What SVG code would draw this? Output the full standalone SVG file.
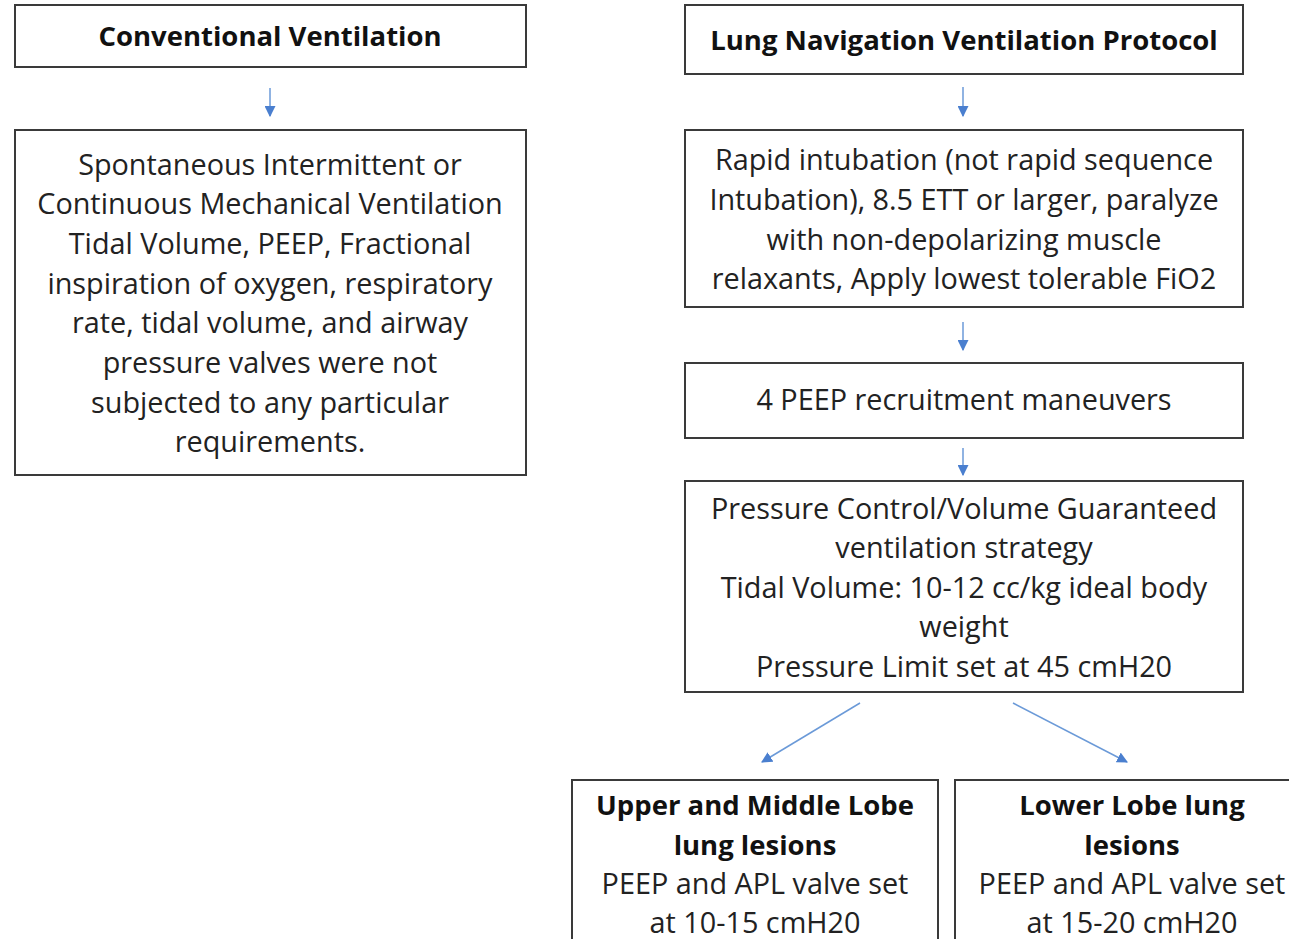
<svg xmlns="http://www.w3.org/2000/svg" width="1289" height="939" viewBox="0 0 1289 939">
<defs>
<style>
.box{fill:#fff;stroke:#3a3a3a;stroke-width:2}
.t{font-family:"Open Sans","Liberation Sans",sans-serif;font-size:28.8px;fill:#222;text-anchor:middle}
.b{font-weight:bold;font-size:27.5px;fill:#111}
.c{stroke:#6b9ad8;stroke-width:1.5;fill:none}
</style>
<marker id="ah2" viewBox="0 0 10 10" refX="9" refY="5" markerWidth="11" markerHeight="11" orient="auto" markerUnits="userSpaceOnUse">
<path d="M0,0 L10,5 L0,10 Z" fill="#4a7fcf"/>
</marker>
</defs>
<rect width="1289" height="939" fill="#fff"/>
<g id="connectors">
<line class="c" x1="270" y1="88" x2="270" y2="116" marker-end="url(#ah2)"/>
<line class="c" x1="963" y1="87" x2="963" y2="116" marker-end="url(#ah2)"/>
<line class="c" x1="963" y1="322" x2="963" y2="350" marker-end="url(#ah2)"/>
<line class="c" x1="963" y1="448" x2="963" y2="475" marker-end="url(#ah2)"/>
<line class="c" x1="860" y1="703" x2="762" y2="762" marker-end="url(#ah2)"/>
<line class="c" x1="1013" y1="703" x2="1127" y2="762" marker-end="url(#ah2)"/>
</g>
<g id="conventional">
<rect class="box" x="15" y="5" width="511" height="62"/>
<text class="t b" x="270" y="46">Conventional Ventilation</text>
</g>
<g id="spontaneous">
<rect class="box" x="15" y="130" width="511" height="345"/>
<text class="t" x="270" y="175">Spontaneous Intermittent or</text>
<text class="t" x="270" y="214">Continuous Mechanical Ventilation</text>
<text class="t" x="270" y="254">Tidal Volume, PEEP, Fractional</text>
<text class="t" x="270" y="294">inspiration of oxygen, respiratory</text>
<text class="t" x="270" y="333">rate, tidal volume, and airway</text>
<text class="t" x="270" y="373">pressure valves were not</text>
<text class="t" x="270" y="413">subjected to any particular</text>
<text class="t" x="270" y="452">requirements.</text>
</g>
<g id="protocol">
<rect class="box" x="685" y="5" width="558" height="69"/>
<text class="t b" x="964" y="50">Lung Navigation Ventilation Protocol</text>
</g>
<g id="intubation">
<rect class="box" x="685" y="130" width="558" height="177"/>
<text class="t" x="964" y="170">Rapid intubation (not rapid sequence</text>
<text class="t" x="964" y="210">Intubation), 8.5 ETT or larger, paralyze</text>
<text class="t" x="964" y="250">with non-depolarizing muscle</text>
<text class="t" x="964" y="289">relaxants, Apply lowest tolerable FiO2</text>
</g>
<g id="recruitment">
<rect class="box" x="685" y="363" width="558" height="75"/>
<text class="t" x="964" y="410">4 PEEP recruitment maneuvers</text>
</g>
<g id="pressure">
<rect class="box" x="685" y="481" width="558" height="211"/>
<text class="t" x="964" y="519">Pressure Control/Volume Guaranteed</text>
<text class="t" x="964" y="558">ventilation strategy</text>
<text class="t" x="964" y="598">Tidal Volume: 10-12 cc/kg ideal body</text>
<text class="t" x="964" y="637">weight</text>
<text class="t" x="964" y="677">Pressure Limit set at 45 cmH20</text>
</g>
<g id="upper">
<rect class="box" x="572" y="780" width="366" height="170"/>
<text class="t b" x="755" y="815">Upper and Middle Lobe</text>
<text class="t b" x="755" y="855">lung lesions</text>
<text class="t" x="755" y="894">PEEP and APL valve set</text>
<text class="t" x="755" y="933">at 10-15 cmH20</text>
</g>
<g id="lower">
<rect class="box" x="955" y="780" width="345" height="170"/>
<text class="t b" x="1132" y="815">Lower Lobe lung</text>
<text class="t b" x="1132" y="855">lesions</text>
<text class="t" x="1132" y="894">PEEP and APL valve set</text>
<text class="t" x="1132" y="933">at 15-20 cmH20</text>
</g>
</svg>
